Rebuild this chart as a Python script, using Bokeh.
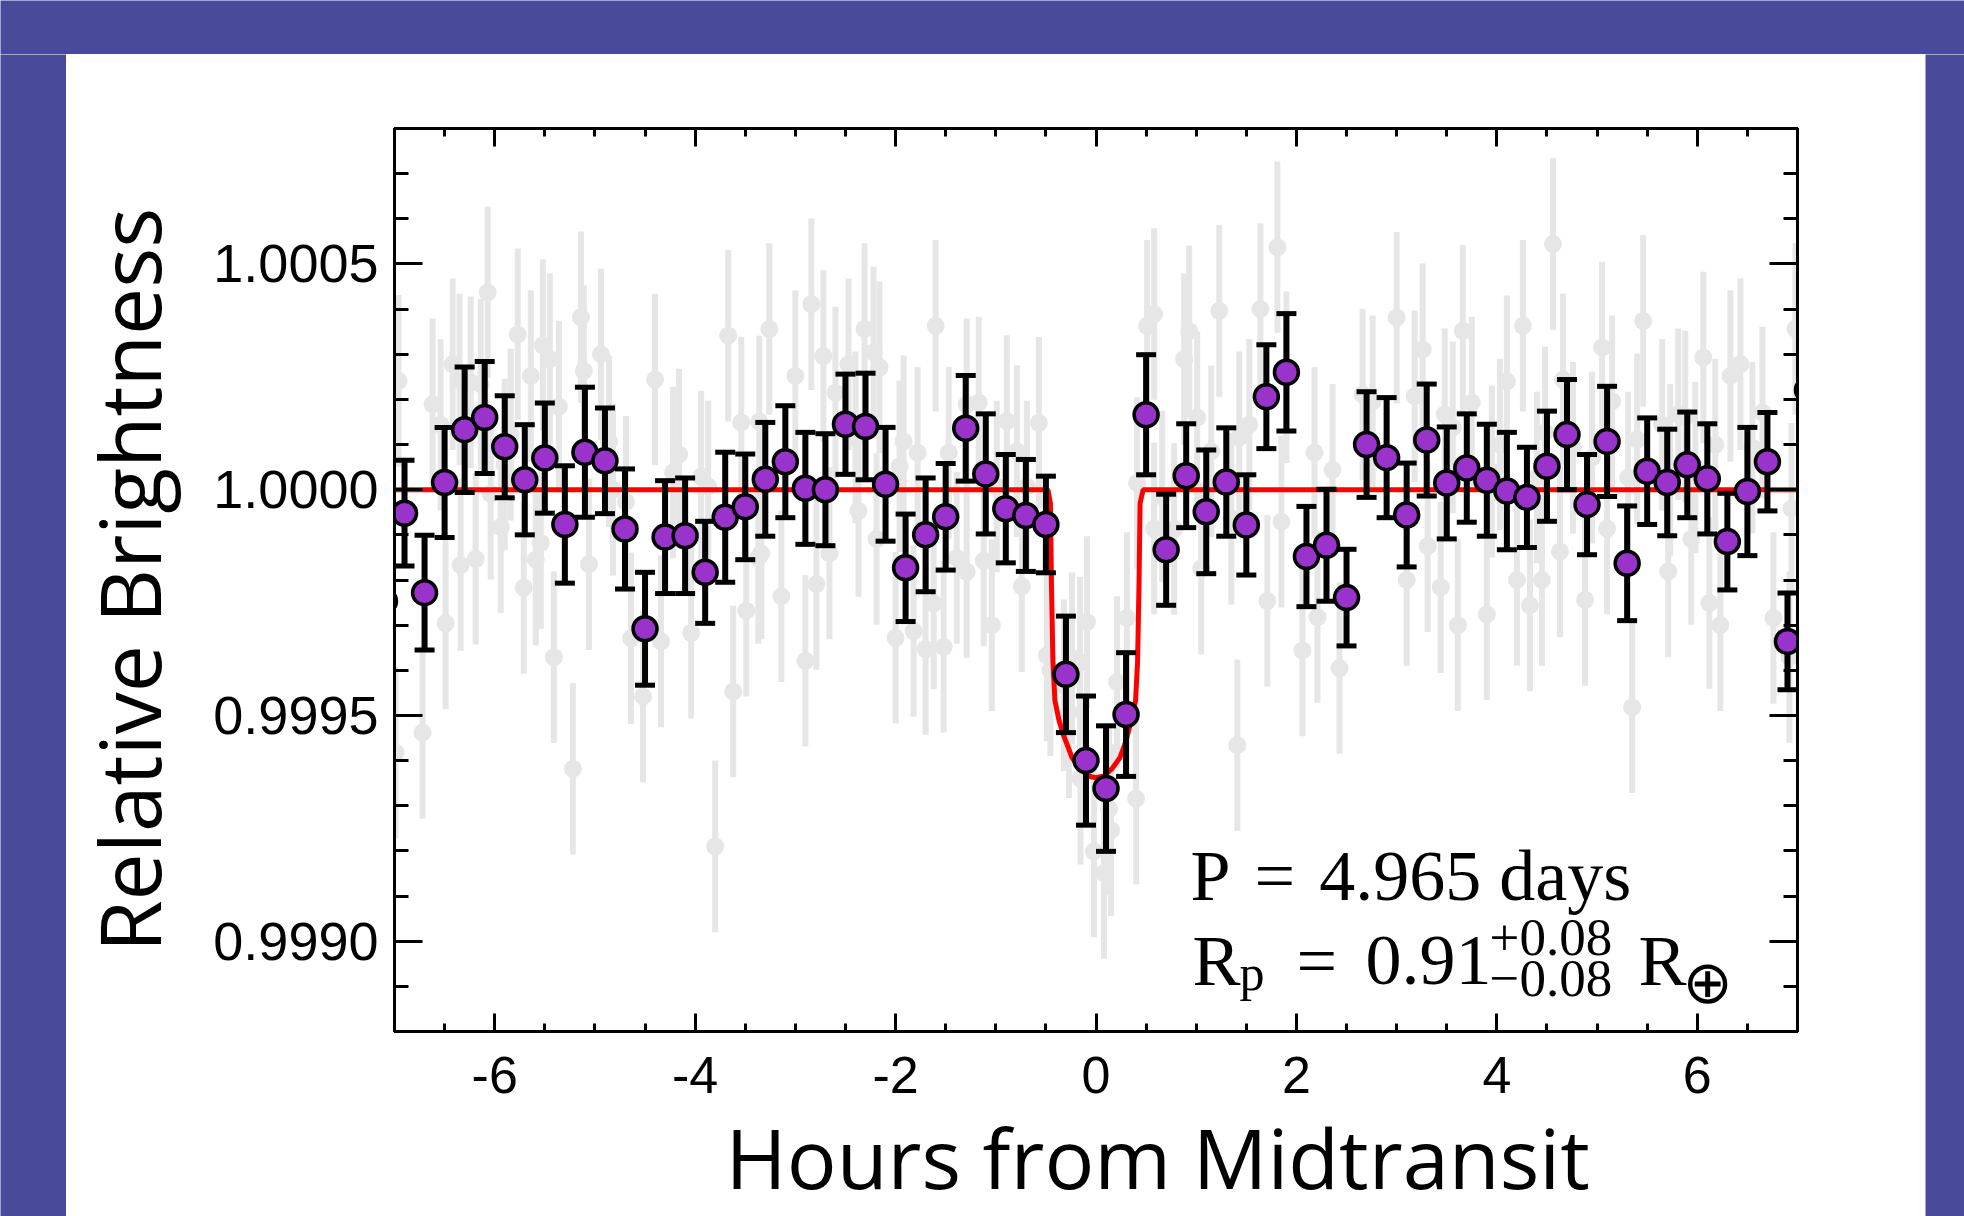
import numpy as np
from bokeh.plotting import figure
from bokeh.layouts import column, row
from bokeh.models import (Range1d, LinearAxis, FixedTicker, Label, Title,
                          ColumnDataSource, PrintfTickFormatter)
from bokeh.embed import file_html
from bokeh.resources import INLINE

# ---------------- data ----------------
# binned light curve: hours from midtransit, deviation (ppm) and 1-sigma error (ppm)
binned_hours = [-7.1, -6.9, -6.7, -6.5, -6.3, -6.1, -5.9, -5.7, -5.5, -5.3, -5.1, -4.9,
                -4.7, -4.5, -4.3, -4.1, -3.9, -3.7, -3.5, -3.3, -3.1, -2.9, -2.7, -2.5,
                -2.3, -2.1, -1.9, -1.7, -1.5, -1.3, -1.1, -0.9, -0.7, -0.5, -0.3, -0.1,
                0.1, 0.3, 0.5, 0.7, 0.9, 1.1, 1.3, 1.5, 1.7, 1.9, 2.1, 2.3,
                2.5, 2.7, 2.9, 3.1, 3.3, 3.5, 3.7, 3.9, 4.1, 4.3, 4.5, 4.7,
                4.9, 5.1, 5.3, 5.5, 5.7, 5.9, 6.1, 6.3, 6.5, 6.7, 6.9, 7.1]
binned_ppm = [-247, -52, -228, 16, 133, 160, 95, 22, 70, -77, 83, 64,
              -87, -308, -105, -102, -183, -61, -38, 23, 62, 3, 0, 145,
              140, 12, -173, -100, -60, 136, 35, -42, -57, -77, -409, -600,
              -662, -498, 166, -133, 31, -49, 17, -78, 206, 260, -148, -123,
              -239, 100, 71, -56, 110, 15, 48, 21, -3, -17, 52, 122,
              -33, 107, -163, 41, 16, 55, 24, -115, -4, 62, -336, 221]
binned_err_ppm = [125, 117, 127, 122, 139, 124, 113, 122, 122, 130, 144, 117,
                  133, 125, 125, 128, 113, 144, 117, 126, 124, 124, 124, 111,
                  118, 126, 119, 126, 118, 117, 133, 120, 124, 107, 129, 143,
                  139, 137, 133, 123, 115, 137, 120, 111, 115, 130, 111, 124,
                  107, 117, 133, 115, 124, 124, 120, 124, 130, 111, 122, 122,
                  111, 122, 127, 118, 118, 117, 122, 107, 142, 109, 107, 125]

# unbinned observations (grey): hours, deviation (ppm)
raw_hours = [-6.96, -6.62, -6.07, -5.77, -5.64, -5.52, -5.45, -5.11, -5.14, -4.40,
             -3.67, -3.26, -3.00, -2.84, -2.72, -2.31,
             -2.16, -1.96, -1.78, -1.60, -1.47, -1.17, -0.89, -0.57, 0.41, 0.51,
             0.88, 1.23, 1.64, 1.81, 2.18,
             3.00, 3.26, 3.66, 4.26, 4.56, 5.05, 5.46, 6.06, 6.33, 6.98,
             -6.54, -6.42, -6.35, -6.24, -6.14, -5.90, -5.84, -5.36, -4.94, -4.86,
             -4.69, -4.22, -4.16, -3.94, -3.87, -3.54, -3.36, -2.60, -2.47, -2.40, -2.22,
             -1.92, -1.29, -0.99, -0.79, -0.69, 0.58, 0.66, 0.93, 1.01, 1.15,
             1.43, 1.53, 1.90, 2.36, 2.66, 2.76,
             3.18, 3.48, 3.56, 3.75, 3.95, 4.03, 4.10, 4.40, 4.48, 4.66,
             4.76, 4.95, 5.15, 5.31, 5.40, 5.65, 5.73, 5.81, 5.88, 5.98,
             6.18, 6.43, 6.55, 6.65,
             -6.99, -6.72, -6.49, -6.19, -5.71, -5.54, -5.41, -5.22, -5.06, -4.52,
             -4.34, -4.04, -3.80, -3.62, -3.49, -3.34, -3.14, -2.90, -2.79, -2.66, -2.19,
             -2.00, -1.62, -1.52, -1.12, -1.04, -0.49, -0.16, 0.40, 0.58, 1.41,
             2.06, 2.43,
             3.10, 3.31, 3.44, 3.61, 3.90, 4.20, 4.33, 4.45, 4.63, 4.88,
             5.10, 5.35, 5.71, 5.94, 6.12, 6.23, 6.76, 6.94,
             -6.34, -6.04, -5.94, -5.59, -4.82, -4.64, -3.37, -2.37, -1.82, -1.70,
             -1.39, -1.29, -0.74, -0.02, 0.08, 0.15, 0.78, 1.05, 1.35, 1.71,
             1.85, 2.21, 6.92,
             -0.455, -0.32, -0.27, -0.155, -0.09, -0.24, 0.31, 0.21, 0.13]
raw_ppm = [241, 189, 437, 344, 252, 320, 289, 263, 382, 244,
           341, 356, 252, 411, 296, 356,
           271, 52, 82, 363, 82, 193, 152, 148, 15, 363,
           289, 396, 400, 537, 82,
           381, 311, 352, 363, 544, 315, 374, 293, 252, 356,
           144, 278, 244, 238, 233, 56, 122, 184, 300, 107,
           -27, 38, 78, 29, 7, 149, 151, 215, 278, 116, 304,
           107, 189, 7, 85, 7, 389, -15, 351, 160, 85,
           116, 144, 249, 44, 211, 196,
           207, 167, 138, 193, 40, 100, 240, 27, 127, 244,
           93, 71, 196, 27, 111, 144, 44, 167, 162, 49,
           100, 278, 93, 171,
           -582, -538, -296, -153, -217, -118, -371, -618, -165, -458,
           -336, -317, -790, -447, -268, -141, -236, -379, -209, -141, -109,
           -328, -252, -348, -157, -300, -367, -383, -684, -86, -566,
           -356, -395,
           -200, -125, -216, -300, -276, -200, -256, -200, -137, -244,
           -86, -482, -181, -109, -251, -300, -284, -42,
           -167, -9, -83, -155, 0, -329, -151, -47, -313, -353,
           -151, -182, -214, -801, -849, -754, -87, -175, -64, -246,
           -71, -282, -371,
           -400, -433, -493, -640, -293, -373, -284, -426, -707]
raw_err_ppm = 190

# transit model (red line): hours, deviation (ppm)
model_hours = [-7.0, -0.48, -0.455, -0.445, -0.43, -0.41, -0.37, -0.33, -0.24, -0.16,
               -0.08, 0.0, 0.08, 0.16, 0.24, 0.30, 0.36, 0.395, 0.415, 0.43,
               0.44, 0.47, 7.0]
model_ppm = [0, 0, -30, -200, -380, -467, -510, -540, -593, -618,
             -634, -638, -634, -618, -593, -556, -504, -467, -380, -200,
             -30, 0, 0]

x_major = [-6, -4, -2, 0, 2, 4, 6]
x_minor = [-7.0, -6.5, -5.5, -5.0, -4.5, -3.5, -3.0, -2.5, -1.5, -1.0, -0.5,
           0.5, 1.0, 1.5, 2.5, 3.0, 3.5, 4.5, 5.0, 5.5, 6.5, 7.0]
y_major = [0.9990, 0.9995, 1.0000, 1.0005]
y_minor = [0.9988, 0.9989, 0.9991, 0.9992, 0.9993, 0.9994, 0.9996, 0.9997, 0.9998,
           0.9999, 1.0001, 1.0002, 1.0003, 1.0004, 1.0006, 1.0007, 1.0008]

# ---------------- derived columns ----------------
bx = np.array(binned_hours)
by = 1.0 + np.array(binned_ppm) * 1e-6
be = np.array(binned_err_ppm) * 1e-6
rx = np.array(raw_hours)
ry = 1.0 + np.array(raw_ppm) * 1e-6
re = raw_err_ppm * 1e-6
mx = np.array(model_hours)
my = 1.0 + np.array(model_ppm) * 1e-6

binned = ColumnDataSource(dict(x=bx, y=by, lo=by - be, hi=by + be))
raw = ColumnDataSource(dict(x=rx, y=ry, lo=ry - re, hi=ry + re))

BLUE = "#4a4a9a"
GREY = "#e6e6e6"
PURPLE = "#9933cc"

# page geometry (outer blue frame around a white panel)
PAD_L, PAD_T, PAD_R = 66, 54, 39
PAGE_W, PAGE_H = 1964, 1216
PANEL_W = PAGE_W - PAD_L - PAD_R          # 1859
MAIN_H = PAGE_H - PAD_T                   # 1162


def strip(w, h):
    return figure(width=w, height=h, output_backend="svg", toolbar_location=None,
                  x_axis_type=None, y_axis_type=None, min_border=0,
                  x_range=Range1d(0, 1), y_range=Range1d(0, 1),
                  background_fill_color=BLUE, border_fill_color=BLUE,
                  outline_line_color=None)


p = figure(width=PANEL_W, height=MAIN_H, output_backend="svg", toolbar_location=None,
           x_range=Range1d(-7, 7), y_range=Range1d(0.9988, 1.0008),
           x_axis_type=None, y_axis_type=None,
           min_border_left=328, min_border_right=128, min_border_top=74,
           min_border_bottom=185,
           background_fill_color="white", border_fill_color="white",
           outline_line_color="black", outline_line_width=3)


def axis(ticks, minor, labels, tick_in, minor_in, fmt, size, standoff):
    ax = LinearAxis(ticker=FixedTicker(ticks=ticks, minor_ticks=minor),
                    formatter=PrintfTickFormatter(format=fmt),
                    major_tick_in=tick_in, major_tick_out=0,
                    minor_tick_in=minor_in, minor_tick_out=0,
                    major_tick_line_width=3, minor_tick_line_width=3,
                    axis_line_width=3,
                    major_label_text_font="Liberation Sans",
                    major_label_text_font_size=size,
                    major_label_text_color="black",
                    major_label_standoff=standoff)
    if not labels:
        ax.major_label_overrides = {t: "" for t in ticks}
    return ax


xb = axis(x_major, x_minor, True, 18, 8, "%d", "52px", 25)
yl = axis(y_major, y_minor, True, 28, 14, "%.4f", "54px", 16)
yl.axis_label = "Relative Brightness"
yl.axis_label_text_font = "Open Sans"
yl.axis_label_text_font_size = "84px"
yl.axis_label_text_font_style = "normal"
yl.axis_label_text_color = "black"
yl.axis_label_standoff = 24
p.add_layout(xb, "below")
p.add_layout(axis(x_major, x_minor, False, 18, 8, "%d", "52px", 25), "above")
p.add_layout(yl, "left")
p.add_layout(axis(y_major, y_minor, False, 28, 14, "%.4f", "54px", 16), "right")

# x-axis title, below the tick labels
p.add_layout(Title(text="Hours from Midtransit", text_font="Open Sans",
                   text_font_size="83px", text_font_style="normal", text_color="black",
                   align="left", offset=331, standoff=5, vertical_align="bottom"),
             "below")

# grey unbinned data
p.segment(x0="x", y0="lo", x1="x", y1="hi", source=raw, line_color=GREY, line_width=6)
p.scatter("x", "y", source=raw, size=18, fill_color=GREY, line_color=None)

# model
p.line(mx, my, line_color="red", line_width=5)

# binned data with error bars
p.segment(x0="x", y0="lo", x1="x", y1="hi", source=binned, line_color="black", line_width=6)
p.scatter("x", "lo", source=binned, marker="dash", size=20, line_color="black", line_width=5)
p.scatter("x", "hi", source=binned, marker="dash", size=20, line_color="black", line_width=5)
p.scatter("x", "y", source=binned, size=24, fill_color=PURPLE, line_color="black", line_width=3.5)

# annotation text (canvas pixels of the main figure)
DY = -23


def lab(x, y, t, size, font="Liberation Serif"):
    p.add_layout(Label(x=x - PAD_L, y=y - PAD_T + DY, x_units="canvas", y_units="canvas",
                       text=t, text_font=font, text_font_size=size, text_align="left",
                       text_baseline="alphabetic", text_color="black"))


lab(1190, 898, "P\u2004=\u20044.965 days", "72px")
lab(1192, 983, "R", "72px")
lab(1239, 995, "p", "50px")
lab(1296, 983, "=", "72px")
lab(1365, 983, "0.91", "72px")
lab(1489, 960, "+0.08", "53px")
lab(1489, 1001, "\u22120.08", "53px")
lab(1638, 983, "R", "72px")
lab(1682, 1004, "\u2295", "60px", "DejaVu Sans")

page = column(strip(PAGE_W, PAD_T),
              row(strip(PAD_L, MAIN_H), column(p, spacing=0), strip(PAD_R, MAIN_H),
                  spacing=0),
              spacing=0)

open("out.html", "w").write(file_html(page, INLINE))
